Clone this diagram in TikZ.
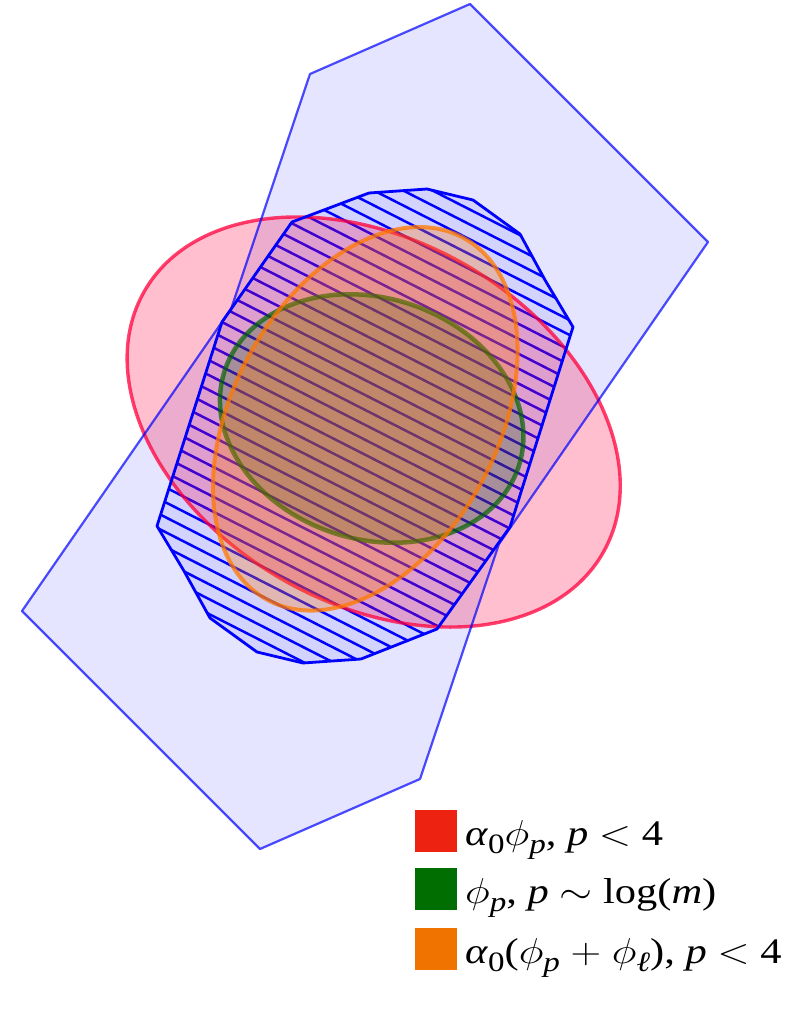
\RequirePackage{fix-cm}
\documentclass[tikz,border=0pt]{standalone}
\usepackage{graphicx}
\usepackage{fontspec}
\setmainfont{Liberation Serif}
\definecolor{redE}{RGB}{255,0,60}
\definecolor{orE}{RGB}{255,120,0}
\definecolor{grE}{RGB}{0,100,0}
\definecolor{legR}{RGB}{238,34,17}
\definecolor{legG}{RGB}{0,110,0}
\definecolor{legO}{RGB}{240,115,0}
\newcommand\lsub[1]{\raisebox{-0.24em}{\fontsize{28}{28}\selectfont #1}}
\newcommand\lphi{$\phi$}
\newcommand\legline[1]{\scalebox{1.18}[1]{\fontsize{36}{36}\selectfont #1}}
\tikzset{
  bigfill/.style={fill=blue, fill opacity=0.1},
  bigborder/.style={draw=blue, draw opacity=0.7, line width=2.2, line join=round},
  hatchfill/.style={fill=blue, fill opacity=0.08},
  hatchline/.style={draw=blue, line width=2.5},
  hatchborder/.style={draw=blue, line width=2.8, line join=round},
  redell/.style={fill=redE, fill opacity=0.25, draw=redE, draw opacity=0.75, line width=3.4},
  grell/.style={fill=grE, fill opacity=0.25, draw=grE, draw opacity=0.7, line width=4.5},
  orell/.style={fill=orE, fill opacity=0.3, draw=orE, draw opacity=0.75, line width=4},
  legsq/.style={minimum size=42, inner sep=0, outer sep=0},
  legtext/.style={anchor=base west, inner sep=0}
}
\begin{document}
\begin{tikzpicture}[x=1pt,y=-1pt]
\path[use as bounding box] (0,0) rectangle (789,1021);
% big polygon
\coordinate (P1) at (470,4);
\coordinate (P2) at (708,242);
\coordinate (P3) at (499,544);
\coordinate (P4) at (420,779);
\coordinate (P5) at (260,849);
\coordinate (P6) at (22,611);
\coordinate (P7) at (231,309);
\coordinate (P8) at (310,74);
\path[bigfill] (P1)--(P2)--(P3)--(P4)--(P5)--(P6)--(P7)--(P8)--cycle;
% hatched polygon
\def\hatchpath{(292,222)--(369,193)--(427,189)--(473,200)--(520,234)--(545,280)--(573,327)--(510,527)--(437,629)--(361,659)--(303,663)--(257,652)--(210,618)--(184,571)--(157,526)--(222,322)--cycle}
\path[hatchfill] \hatchpath;
\begin{scope}
\clip \hatchpath;
\foreach \k in {-6,...,40} {
  \pgfmathsetmacro\c{\k*13.3}
  \draw[hatchline] ({\c*(-0.454)-900*0.891},{\c*0.891-900*0.454}) -- ({\c*(-0.454)+900*0.891},{\c*0.891+900*0.454});
}
\end{scope}
% ellipses
\begin{scope}[shift={(373.7,422)},rotate=-29.6]
\path[redell] (0,0) ellipse [x radius=264, y radius=182];
\end{scope}
\begin{scope}[shift={(371.7,418.5)},rotate=-17.9]
\path[grell] (0,0) ellipse [x radius=154.6, y radius=120.6];
\end{scope}
\begin{scope}[shift={(365.3,418.8)},rotate=61.55]
\path[orell] (0,0) ellipse [x radius=205.9, y radius=132.5];
\end{scope}
% borders on top
\path[hatchborder] \hatchpath;
\path[bigborder] (P1)--(P2)--(P3)--(P4)--(P5)--(P6)--(P7)--(P8)--cycle;
% legend
\node[legsq, fill=legR] (sqR) at (436,830.5) {};
\node[legsq, fill=legG] (sqG) at (436,889) {};
\node[legsq, fill=legO] (sqO) at (436,949) {};
\node[legtext] (tR) at (465,845) {\legline{\textit{α}\lsub{0}\lphi\lsub{\textit{p}}, \textit{p} $<$ 4}};
\node[legtext] (tG) at (465,903) {\legline{\lphi\lsub{\textit{p}}, \textit{p} $\sim$ log(\textit{m})}};
\node[legtext] (tO) at (465,963) {\legline{\textit{α}\lsub{0}(\lphi\lsub{\textit{p}} $+$ \lphi\lsub{\textit{ℓ}}), \textit{p} $<$ 4}};
\end{tikzpicture}
\end{document}
